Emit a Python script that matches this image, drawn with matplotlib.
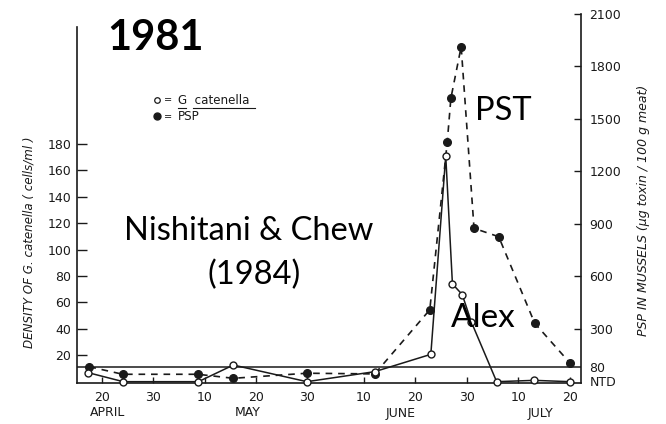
import matplotlib
matplotlib.use("Agg")
import matplotlib.pyplot as plt
import matplotlib.transforms as mtransforms
from matplotlib.lines import Line2D

# Datos (dias contados desde el 1 de abril de 1981)
dias_cat = [16.4, 23.2, 37.8, 44.6, 58.9, 72.1, 83.0, 85.9, 87.2, 89.1, 90.9, 95.8, 103.1, 110.1]
densidad_cat = [6.8, 0, 0, 12.6, 0, 7.6, 20.7, 171, 74, 66, 45, 0, 1, 0]

dias_psp = [16.6, 23.1, 37.7, 44.6, 58.9, 72.1, 82.8, 86.2, 86.9, 88.9, 91.4, 96.2, 103.2, 110.1]
psp = [82, 39, 39, 16, 45, 41, 408, 1370, 1618, 1913, 874, 826, 331, 102]

# Ejes y etiquetas
ticks_x = [19, 29, 39, 49, 59, 70, 80, 90, 100, 110]
etiquetas_x = ["20", "30", "10", "20", "30", "10", "20", "30", "10", "20"]
meses = ["APRIL", "MAY", "JUNE", "JULY"]
pos_meses = [20.2, 47.4, 77.2, 104.4]
ticks_izq = [20, 40, 60, 80, 100, 120, 140, 160, 180]
ticks_der = [0, 80, 300, 600, 900, 1200, 1500, 1800, 2100]
etiquetas_der = ["NTD", "80", "300", "600", "900", "1200", "1500", "1800", "2100"]
limite_psp = 80

W, H = 666, 424
fig = plt.figure(figsize=(W / 100, H / 100), dpi=100)
ax = fig.add_axes([77 / W, 1 - 383 / H, 504 / W, 369 / H])
ax2 = ax.twinx()

ax.set_xlim(14.2, 112.2)
ax.set_ylim(-1.0, 278.4)
ax2.set_ylim(-10.9, 2100)

tinta = "#1a1a1a"

# Linea del limite de deteccion (80)
ax2.axhline(limite_psp, color=tinta, lw=1.1)

# PSP en mejillones (circulos llenos, linea discontinua)
ax2.plot(dias_psp, psp, color=tinta, ls=(0, (4, 3.5)), lw=1.2,
         marker="o", ms=5.5, mfc=tinta, mec=tinta, clip_on=False, zorder=3)

# Densidad de G. catenella (circulos abiertos, linea continua)
ax.plot(dias_cat, densidad_cat, color=tinta, lw=1.1,
        marker="o", ms=5, mfc="white", mec=tinta, mew=1.0, clip_on=False, zorder=4)
ax.set_zorder(ax2.get_zorder() + 1)
ax.patch.set_visible(False)

# Espinas
for a in (ax, ax2):
    a.spines["top"].set_visible(False)
    a.spines["left"].set_color(tinta)
    a.spines["right"].set_color(tinta)
    a.spines["bottom"].set_color(tinta)
ax.spines["right"].set_visible(False)
ax2.spines["left"].set_visible(False)
ax2.spines["bottom"].set_visible(False)
ax.spines["left"].set_bounds(-1.0, 268.6)
ax.spines["left"].set_linewidth(1.2)
ax2.spines["right"].set_linewidth(1.2)
ax.spines["bottom"].set_linewidth(1.2)

ax.set_xticks(ticks_x)
ax.set_xticklabels(etiquetas_x)
ax.tick_params(axis="x", direction="in", length=4, width=1, colors=tinta,
               labelsize=9, pad=6)
ax.set_yticks(ticks_izq)
ax.set_yticklabels([str(t) for t in ticks_izq])
ax.tick_params(axis="y", direction="in", length=7, width=1, colors=tinta,
               labelsize=9, pad=4)
ax2.set_yticks(ticks_der)
ax2.set_yticklabels(etiquetas_der)
ax2.tick_params(axis="y", direction="in", length=5, width=1, colors=tinta,
                labelsize=9, pad=6)
ax2.yaxis.get_major_ticks()[0].tick2line.set_visible(False)
ax2.yaxis.get_major_ticks()[1].tick2line.set_visible(False)

# Meses bajo el eje x
trans = mtransforms.blended_transform_factory(ax.transData, ax.transAxes)
for m, p in zip(meses, pos_meses):
    ax.text(p, -30 / 369, m, transform=trans, ha="center", va="center",
            fontsize=9, color=tinta)

# Etiquetas de los ejes y
fig.text(29 / W, 1 - 242 / H, "DENSITY OF G. catenella ( cells/ml )",
         rotation=90, ha="center", va="center", fontsize=8.6,
         style="italic", color=tinta)
fig.text(643 / W, 1 - 210 / H, "PSP IN MUSSELS (\u00b5g toxin / 100 g meat)",
         rotation=90, ha="center", va="center", fontsize=9,
         style="italic", color=tinta)

# Leyenda
fig.text(178 / W, 1 - 100 / H, "G  catenella", fontsize=8.6, va="center", color=tinta)
fig.text(178 / W, 1 - 117 / H, "PSP", fontsize=8.6, va="center", color=tinta)
fig.text(164 / W, 1 - 100 / H, "=", fontsize=7, va="center", color=tinta)
fig.text(164 / W, 1 - 117 / H, "=", fontsize=7, va="center", color=tinta)
fig.add_artist(Line2D([157 / W], [1 - 100 / H], marker="o", ms=4, mfc="white",
                      mec=tinta, mew=0.9, ls="none"))
fig.add_artist(Line2D([157 / W], [1 - 116 / H], marker="o", ms=5, mfc=tinta,
                      mec=tinta, ls="none"))
fig.add_artist(Line2D([178 / W, 186 / W], [1 - 108 / H, 1 - 108 / H], color=tinta, lw=0.8))
fig.add_artist(Line2D([193 / W, 255 / W], [1 - 108 / H, 1 - 108 / H], color=tinta, lw=0.8))

# Anotaciones
fig.text(156 / W, 1 - 38 / H, "1981", fontsize=30, fontweight="bold",
         family="Lato", ha="center", va="center", color="black")
fig.text(503 / W, 1 - 111 / H, "PST", fontsize=23.5, family="Lato",
         ha="center", va="center", color="black")
fig.text(249 / W, 1 - 231 / H, "Nishitani & Chew", fontsize=23.5, family="Lato",
         ha="center", va="center", color="black")
fig.text(254 / W, 1 - 275 / H, "(1984)", fontsize=23.5, family="Lato",
         ha="center", va="center", color="black")
fig.text(483 / W, 1 - 318 / H, "Alex", fontsize=24, family="Lato",
         ha="center", va="center", color="black")

fig.savefig("out.png", dpi=100)
